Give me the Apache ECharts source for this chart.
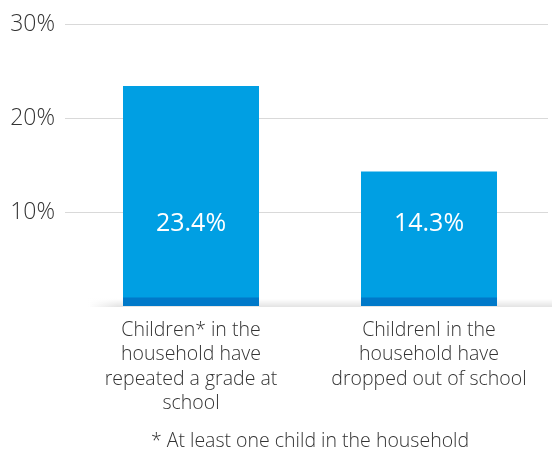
<!DOCTYPE html>
<html><head><meta charset="utf-8">
<script src="https://cdn.jsdelivr.net/npm/echarts@6/dist/echarts.min.js"></script>
<style>html,body{margin:0;padding:0;background:#fff}#c{width:552px;height:452px}</style>
</head><body><div id="c"></div>
<script>
const categories = [
  "Children* in the\nhousehold have\nrepeated a grade at\nschool",
  "ChildrenI in the\nhousehold have\ndropped out of school"
];
const values = [23.4, 14.3];
const valueLabels = ["23.4%", "14.3%"];
const yTicks = [0, 10, 20, 30];
const footnote = "* At least one child in the household";
const bandDepth = 0.9; // dark base strip thickness (in axis units)

const FONT = '"Open Sans", "Noto Sans", sans-serif';
const chart = echarts.init(document.getElementById('c'), null, {renderer: 'canvas'});
chart.setOption({
  animation: false,
  grid: [
    {left: 65, right: 4, top: 24, bottom: 146},
    {left: 72, right: 4, top: 24, bottom: 146}
  ],
  xAxis: [
    {gridIndex: 0, type: 'category', data: categories, show: false},
    {gridIndex: 1, type: 'category', data: categories,
     axisLine: {show: false}, axisTick: {show: false},
     axisLabel: {margin: 12, fontFamily: FONT, fontWeight: 300, fontSize: 19.5, lineHeight: 24.5, color: '#333', interval: 0}}
  ],
  yAxis: [
    {gridIndex: 0, type: 'value', min: yTicks[0], max: yTicks[yTicks.length-1], interval: 10,
     axisLine: {show: false}, axisTick: {show: false},
     axisLabel: {margin: 10, fontFamily: FONT, fontWeight: 300, fontSize: 23, color: '#333',
       formatter: v => v === 0 ? '' : v + '%'},
     splitLine: {lineStyle: {color: ['rgba(0,0,0,0)', '#d9d9d9', '#d9d9d9', '#d9d9d9'], width: 1}}},
    {gridIndex: 1, type: 'value', min: yTicks[0], max: yTicks[yTicks.length-1], interval: 10, show: false, splitLine: {show: false}}
  ],
  graphic: [
    {type: 'rect', z: 0, shape: {x: 90, y: 299, width: 462, height: 8},
     style: {fill: new echarts.graphic.LinearGradient(0, 0, 0, 1, [
       {offset: 0, color: 'rgba(0,0,0,0)'}, {offset: 1, color: 'rgba(0,0,0,0.11)'}])}},
    {type: 'rect', z: 1, shape: {x: 88, y: 297, width: 30, height: 11},
     style: {fill: new echarts.graphic.LinearGradient(0, 0, 1, 0, [
       {offset: 0, color: 'rgba(255,255,255,1)'}, {offset: 1, color: 'rgba(255,255,255,0)'}])}},
    {type: 'text', x: 310, y: 441, z: 10,
     style: {text: footnote, font: '300 19.5px ' + FONT, fill: '#333', align: 'center', verticalAlign: 'middle'}}
  ],
  series: [
    {type: 'bar', xAxisIndex: 1, yAxisIndex: 1, data: values, barWidth: 136, z: 2,
     itemStyle: {color: '#009fe3'},
     label: {show: true, position: 'insideBottom', distance: 70, color: '#fff', fontFamily: FONT,
       fontSize: 25, fontWeight: 400, formatter: p => valueLabels[p.dataIndex]}},
    {type: 'bar', xAxisIndex: 1, yAxisIndex: 1, data: values.map(() => bandDepth), barWidth: 136, barGap: '-100%', z: 3,
     itemStyle: {color: '#0079c9'}, silent: true}
  ]
});
</script></body></html>
